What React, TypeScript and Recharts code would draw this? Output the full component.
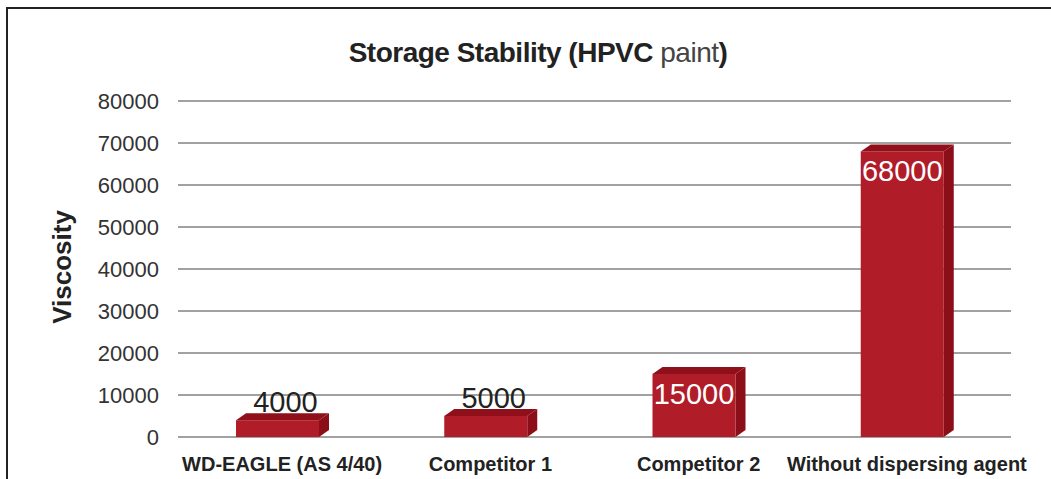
import React from 'react';
import { BarChart, Bar, XAxis, YAxis, CartesianGrid, LabelList } from 'recharts';

const categories = ['WD-EAGLE (AS 4/40)', 'Competitor 1', 'Competitor 2', 'Without dispersing agent'];
const viscosity = [4000, 5000, 15000, 68000];
const yTicks = [0, 10000, 20000, 30000, 40000, 50000, 60000, 70000, 80000];

const data = categories.map((name, i) => ({ name, value: viscosity[i] }));

const FONT = '"Liberation Sans", Arial, Helvetica, sans-serif';
const DEPTH_X = 10;
const DEPTH_Y = 7;

const Bar3D = (props: any) => {
  const { x, y, width, height } = props;
  const bx = x - 5;
  const top = `${bx},${y} ${bx + DEPTH_X},${y - DEPTH_Y} ${bx + width + DEPTH_X},${y - DEPTH_Y} ${bx + width},${y}`;
  const side = `${bx + width},${y} ${bx + width + DEPTH_X},${y - DEPTH_Y} ${bx + width + DEPTH_X},${y + height - DEPTH_Y} ${bx + width},${y + height}`;
  return (
    <g>
      <polygon points={side} fill="#8c0e19" />
      <polygon points={top} fill="#8f101b" />
      <rect x={bx} y={y} width={width} height={height} fill="#b01c28" />
    </g>
  );
};

const ValueLabel = (props: any) => {
  const { x, y, width, value } = props;
  const cx = x - 5 + width / 2;
  const inside = value > 10000;
  return (
    <text
      x={inside ? cx : cx + 8}
      y={inside ? y + 30 : y - 8}
      textAnchor="middle"
      fill={inside ? '#ffffff' : '#222222'}
      fontFamily={FONT}
      fontSize={29}
    >
      {value}
    </text>
  );
};

export default function App() {
  return (
    <div style={{ position: 'fixed', left: 0, top: 0, width: 1051, height: 479, background: '#fff', fontFamily: FONT }}>
      <div
        style={{
          position: 'absolute',
          left: 6,
          top: 7,
          width: 1060,
          height: 480,
          borderTop: '2px solid #222',
          borderLeft: '2px solid #222',
        }}
      />
      <div
        style={{
          position: 'absolute',
          left: 0,
          width: 1076,
          top: 37,
          textAlign: 'center',
          fontSize: 28,
          color: '#222',
          fontWeight: 700,
          letterSpacing: -0.5,
        }}
      >
        Storage Stability (HPVC <span style={{ fontWeight: 300, color: '#444' }}>paint</span>)
      </div>
      <div
        style={{
          position: 'absolute',
          left: 62,
          top: 267,
          transform: 'translate(-50%, -50%) rotate(-90deg)',
          fontSize: 26,
          fontWeight: 700,
          color: '#222',
          whiteSpace: 'nowrap',
        }}
      >
        Viscosity
      </div>
      <BarChart
        width={1051}
        height={479}
        data={data}
        margin={{ top: 101, right: 40, left: 78, bottom: 12 }}
      >
        <CartesianGrid vertical={false} stroke="#444" strokeWidth={1} />
        <XAxis
          dataKey="name"
          axisLine={false}
          tickLine={false}
          height={30}
          tickMargin={14}
          tick={{ fontFamily: FONT, fontSize: 20, fontWeight: 700, fill: '#222' }}
          interval={0}
        />
        <YAxis
          domain={[0, 80000]}
          ticks={yTicks}
          width={100}
          axisLine={false}
          tickLine={false}
          tickSize={0}
          tickMargin={19}
          tick={{ fontFamily: FONT, fontSize: 22, fill: '#333' }}
        />
        <Bar dataKey="value" barSize={83} shape={Bar3D} isAnimationActive={false}>
          <LabelList dataKey="value" content={ValueLabel} />
        </Bar>
      </BarChart>
    </div>
  );
}
